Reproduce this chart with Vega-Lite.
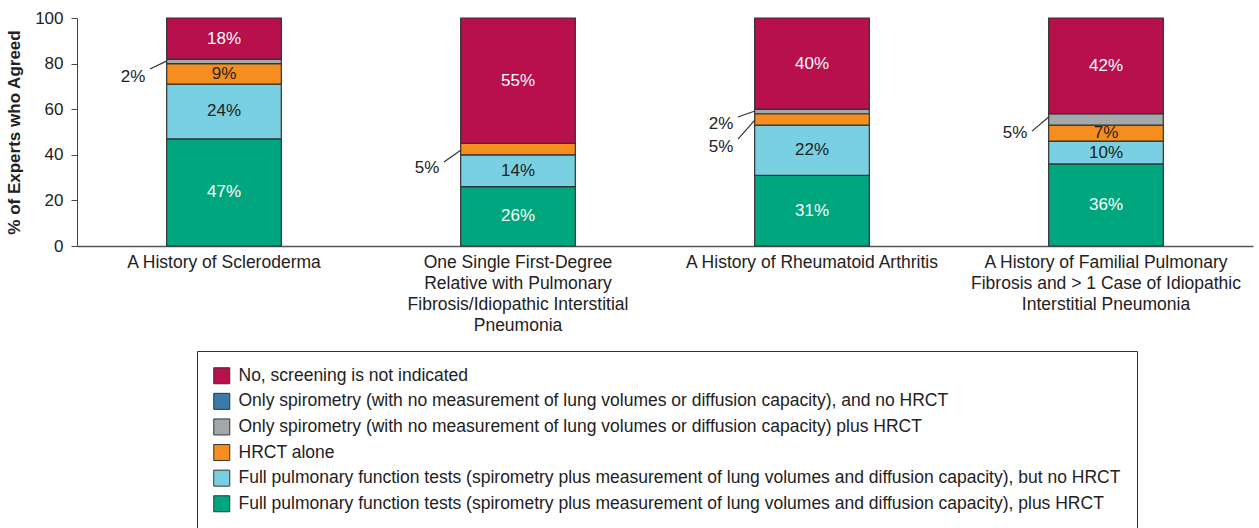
{
  "$schema": "https://vega.github.io/schema/vega-lite/v6.json",
  "width": 1176,
  "height": 228,
  "autosize": "none",
  "padding": {"left": 77, "top": 18, "right": 6, "bottom": 282},
  "background": "white",
  "config": {
    "font": "Liberation Sans",
    "view": {"stroke": null}
  },
  "datasets": {
    "main": [
      {"cat": "A History of Scleroderma", "answer": "Full pulmonary function tests (spirometry plus measurement of lung volumes and diffusion capacity), plus HRCT", "k": 1, "value": 47, "label": "47%"},
      {"cat": "A History of Scleroderma", "answer": "Full pulmonary function tests (spirometry plus measurement of lung volumes and diffusion capacity), but no HRCT", "k": 2, "value": 24, "label": "24%"},
      {"cat": "A History of Scleroderma", "answer": "HRCT alone", "k": 3, "value": 9, "label": "9%"},
      {"cat": "A History of Scleroderma", "answer": "Only spirometry (with no measurement of lung volumes or diffusion capacity) plus HRCT", "k": 4, "value": 2, "label": "2%"},
      {"cat": "A History of Scleroderma", "answer": "Only spirometry (with no measurement of lung volumes or diffusion capacity), and no HRCT", "k": 5, "value": 0, "label": "0%"},
      {"cat": "A History of Scleroderma", "answer": "No, screening is not indicated", "k": 6, "value": 18, "label": "18%"},
      {"cat": "One Single First-Degree|Relative with Pulmonary|Fibrosis/Idiopathic Interstitial|Pneumonia", "answer": "Full pulmonary function tests (spirometry plus measurement of lung volumes and diffusion capacity), plus HRCT", "k": 1, "value": 26, "label": "26%"},
      {"cat": "One Single First-Degree|Relative with Pulmonary|Fibrosis/Idiopathic Interstitial|Pneumonia", "answer": "Full pulmonary function tests (spirometry plus measurement of lung volumes and diffusion capacity), but no HRCT", "k": 2, "value": 14, "label": "14%"},
      {"cat": "One Single First-Degree|Relative with Pulmonary|Fibrosis/Idiopathic Interstitial|Pneumonia", "answer": "HRCT alone", "k": 3, "value": 5, "label": "5%"},
      {"cat": "One Single First-Degree|Relative with Pulmonary|Fibrosis/Idiopathic Interstitial|Pneumonia", "answer": "Only spirometry (with no measurement of lung volumes or diffusion capacity) plus HRCT", "k": 4, "value": 0, "label": "0%"},
      {"cat": "One Single First-Degree|Relative with Pulmonary|Fibrosis/Idiopathic Interstitial|Pneumonia", "answer": "Only spirometry (with no measurement of lung volumes or diffusion capacity), and no HRCT", "k": 5, "value": 0, "label": "0%"},
      {"cat": "One Single First-Degree|Relative with Pulmonary|Fibrosis/Idiopathic Interstitial|Pneumonia", "answer": "No, screening is not indicated", "k": 6, "value": 55, "label": "55%"},
      {"cat": "A History of Rheumatoid Arthritis", "answer": "Full pulmonary function tests (spirometry plus measurement of lung volumes and diffusion capacity), plus HRCT", "k": 1, "value": 31, "label": "31%"},
      {"cat": "A History of Rheumatoid Arthritis", "answer": "Full pulmonary function tests (spirometry plus measurement of lung volumes and diffusion capacity), but no HRCT", "k": 2, "value": 22, "label": "22%"},
      {"cat": "A History of Rheumatoid Arthritis", "answer": "HRCT alone", "k": 3, "value": 5, "label": "5%"},
      {"cat": "A History of Rheumatoid Arthritis", "answer": "Only spirometry (with no measurement of lung volumes or diffusion capacity) plus HRCT", "k": 4, "value": 2, "label": "2%"},
      {"cat": "A History of Rheumatoid Arthritis", "answer": "Only spirometry (with no measurement of lung volumes or diffusion capacity), and no HRCT", "k": 5, "value": 0, "label": "0%"},
      {"cat": "A History of Rheumatoid Arthritis", "answer": "No, screening is not indicated", "k": 6, "value": 40, "label": "40%"},
      {"cat": "A History of Familial Pulmonary|Fibrosis and > 1 Case of Idiopathic|Interstitial Pneumonia", "answer": "Full pulmonary function tests (spirometry plus measurement of lung volumes and diffusion capacity), plus HRCT", "k": 1, "value": 36, "label": "36%"},
      {"cat": "A History of Familial Pulmonary|Fibrosis and > 1 Case of Idiopathic|Interstitial Pneumonia", "answer": "Full pulmonary function tests (spirometry plus measurement of lung volumes and diffusion capacity), but no HRCT", "k": 2, "value": 10, "label": "10%"},
      {"cat": "A History of Familial Pulmonary|Fibrosis and > 1 Case of Idiopathic|Interstitial Pneumonia", "answer": "HRCT alone", "k": 3, "value": 7, "label": "7%"},
      {"cat": "A History of Familial Pulmonary|Fibrosis and > 1 Case of Idiopathic|Interstitial Pneumonia", "answer": "Only spirometry (with no measurement of lung volumes or diffusion capacity) plus HRCT", "k": 4, "value": 5, "label": "5%"},
      {"cat": "A History of Familial Pulmonary|Fibrosis and > 1 Case of Idiopathic|Interstitial Pneumonia", "answer": "Only spirometry (with no measurement of lung volumes or diffusion capacity), and no HRCT", "k": 5, "value": 0, "label": "0%"},
      {"cat": "A History of Familial Pulmonary|Fibrosis and > 1 Case of Idiopathic|Interstitial Pneumonia", "answer": "No, screening is not indicated", "k": 6, "value": 42, "label": "42%"}
    ],
    "callouts": [
      {"cat": "A History of Scleroderma", "y": 74.1, "label": "2%"},
      {"cat": "One Single First-Degree|Relative with Pulmonary|Fibrosis/Idiopathic Interstitial|Pneumonia", "y": 34.2, "label": "5%"},
      {"cat": "A History of Rheumatoid Arthritis", "y": 53.6, "label": "2%"},
      {"cat": "A History of Rheumatoid Arthritis", "y": 43.6, "label": "5%"},
      {"cat": "A History of Familial Pulmonary|Fibrosis and > 1 Case of Idiopathic|Interstitial Pneumonia", "y": 49.6, "label": "5%"}
    ],
    "leaders": [
      {"cat": "A History of Scleroderma", "y": 77.6, "y2": 81.2},
      {"cat": "One Single First-Degree|Relative with Pulmonary|Fibrosis/Idiopathic Interstitial|Pneumonia", "y": 36.8, "y2": 42.1},
      {"cat": "A History of Rheumatoid Arthritis", "y": 56.6, "y2": 59.2},
      {"cat": "A History of Rheumatoid Arthritis", "y": 46.9, "y2": 55.3},
      {"cat": "A History of Familial Pulmonary|Fibrosis and > 1 Case of Idiopathic|Interstitial Pneumonia", "y": 50.4, "y2": 56.7}
    ]
  },
  "layer": [
    {
      "data": {"name": "main"},
      "mark": {"type": "bar", "stroke": "#333333", "strokeWidth": 1.2},
      "encoding": {
        "x": {
          "field": "cat", "type": "nominal", "sort": null,
          "scale": {"paddingInner": 0.61, "paddingOuter": 0.305},
          "axis": {
            "title": null, "labelAngle": 0, "ticks": false,
            "domainColor": "#555555", "domainWidth": 1.5,
            "labelExpr": "split(datum.label, '|')",
            "labelFontSize": 17.5, "labelColor": "#222222", "labelPadding": 7,
            "labelLineHeight": 21, "labelLimit": 0
          }
        },
        "y": {
          "field": "value", "type": "quantitative", "stack": "zero",
          "scale": {"domain": [0, 100], "nice": false},
          "axis": {
            "title": "% of Experts who Agreed", "titleFontSize": 17, "titleFontWeight": "bold",
            "titleColor": "#222222", "titlePadding": 11,
            "values": [0, 20, 40, 60, 80, 100], "grid": false,
            "tickSize": 6, "tickColor": "#444444", "domainColor": "#444444",
            "labelFontSize": 17, "labelColor": "#222222", "labelPadding": 8
          }
        },
        "order": {"field": "k", "type": "quantitative"},
        "color": {
          "field": "answer", "type": "nominal",
          "scale": {
            "domain": [
              "No, screening is not indicated",
              "Only spirometry (with no measurement of lung volumes or diffusion capacity), and no HRCT",
              "Only spirometry (with no measurement of lung volumes or diffusion capacity) plus HRCT",
              "HRCT alone",
              "Full pulmonary function tests (spirometry plus measurement of lung volumes and diffusion capacity), but no HRCT",
              "Full pulmonary function tests (spirometry plus measurement of lung volumes and diffusion capacity), plus HRCT"
            ],
            "range": ["#B80F4D", "#3A7CA5", "#A3A8AB", "#F68D1F", "#79D0E3", "#00A67D"]
          },
          "legend": {
            "title": null, "orient": "none", "legendX": 120, "legendY": 333,
            "direction": "vertical",
            "padding": 16, "strokeColor": "#333333", "fillColor": "white",
            "symbolType": "square", "symbolSize": 256, "symbolStrokeColor": "#333333",
            "symbolStrokeWidth": 1, "symbolOpacity": 1,
            "labelFontSize": 17.5, "labelColor": "#222222", "labelLimit": 0,
            "rowPadding": 4.6, "labelOffset": 8
          }
        }
      }
    },
    {
      "data": {"name": "main"},
      "mark": {"type": "text", "fontSize": 17, "align": "center", "baseline": "middle"},
      "encoding": {
        "x": {"field": "cat", "type": "nominal", "sort": null},
        "y": {"field": "value", "type": "quantitative", "stack": "zero", "bandPosition": 0.5},
        "order": {"field": "k", "type": "quantitative"},
        "detail": {"field": "answer"},
        "text": {"condition": {"test": "datum.value >= 7", "field": "label"}, "value": ""},
        "color": {"condition": {"test": "datum.k == 1 || datum.k == 6", "value": "white"}, "value": "#222222"}
      }
    },
    {
      "data": {"name": "leaders"},
      "mark": {"type": "rule", "stroke": "#333333", "strokeWidth": 1.2, "xOffset": -74, "x2Offset": -57},
      "encoding": {
        "x": {"field": "cat", "type": "nominal", "sort": null},
        "x2": {"field": "cat"},
        "y": {"field": "y", "type": "quantitative"},
        "y2": {"field": "y2"}
      }
    },
    {
      "data": {"name": "callouts"},
      "mark": {"type": "text", "fontSize": 17, "align": "center", "baseline": "middle", "dx": -91, "color": "#222222"},
      "encoding": {
        "x": {"field": "cat", "type": "nominal", "sort": null},
        "y": {"field": "y", "type": "quantitative"},
        "text": {"field": "label"}
      }
    }
  ]
}
